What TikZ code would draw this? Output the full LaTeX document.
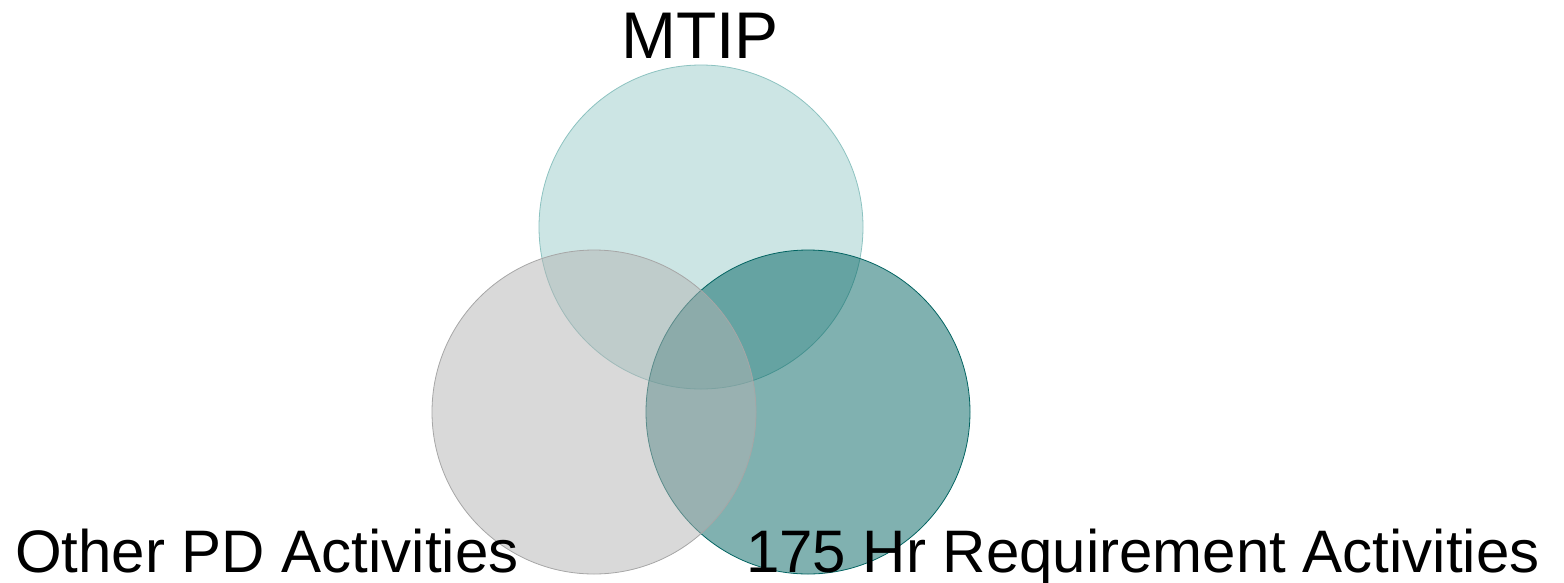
\documentclass[tikz,border=0pt]{standalone}
\usepackage{fontspec}
\setmainfont{Liberation Sans}
\definecolor{topbase}{HTML}{99CBC9}
\definecolor{topline}{HTML}{8CC2C0}
\definecolor{leftbase}{HTML}{B3B3B3}
\definecolor{leftline}{HTML}{A6A6A6}
\definecolor{rightbase}{HTML}{016361}
\begin{document}
\begin{tikzpicture}[x=1pt,y=-1pt,
  venn/.style={circle, minimum size=324pt, inner sep=0pt, fill opacity=0.5, line width=0.8pt},
  biglabel/.style={font=\fontsize{60}{72}\selectfont, inner sep=0pt, text=black},
  toplabel/.style={font=\fontsize{66}{78}\selectfont, inner sep=0pt, text=black}]
\useasboundingbox (0,0) rectangle (1564,582);
\node[venn, fill=topbase, draw=topline] (mtip) at (701,227) {};
\node[venn, fill=rightbase, draw=rightbase] (req) at (808,412) {};
\node[venn, fill=leftbase, draw=leftline] (other) at (594,412) {};
\node[toplabel, anchor=base] (mtiplbl) at (700,58) {MTIP};
\node[biglabel, anchor=base west] (otherlbl) at (15,572) {Other PD Activities};
\node[biglabel, anchor=base east] (reqlbl) at (1540,572) {175 Hr Requirement Activities};
\end{tikzpicture}
\end{document}
